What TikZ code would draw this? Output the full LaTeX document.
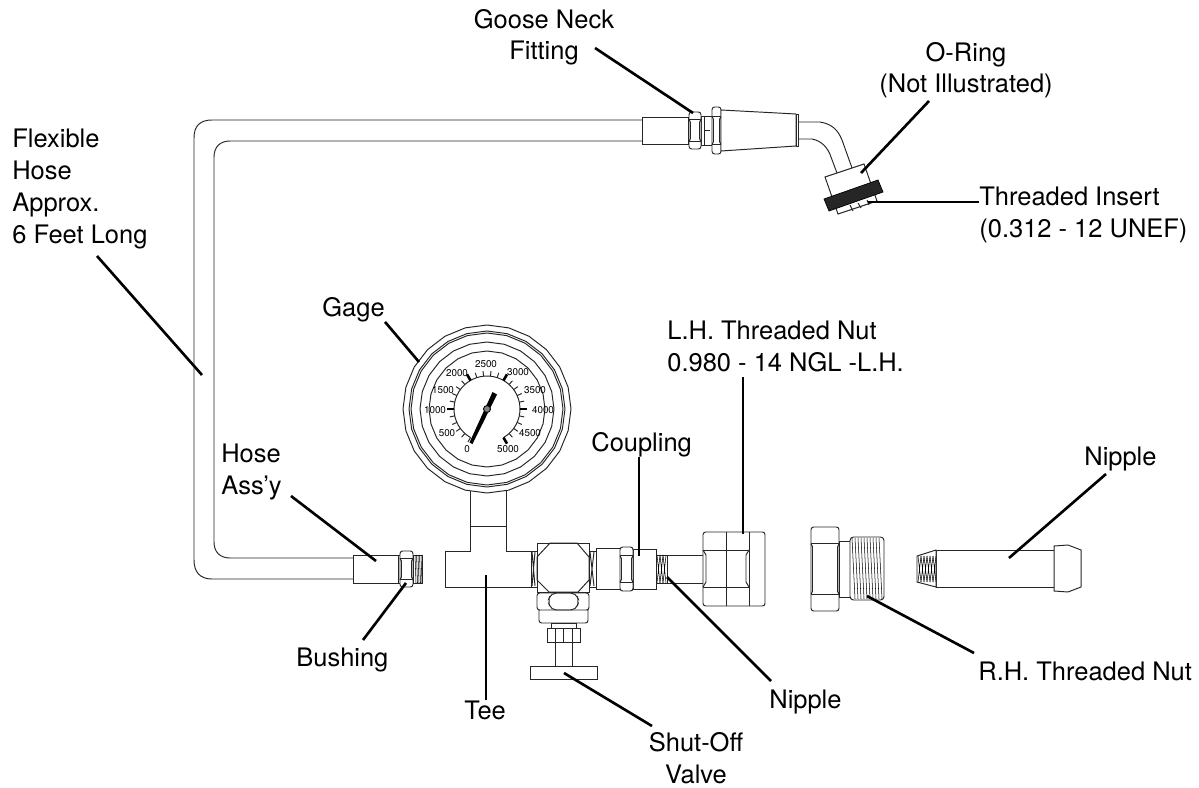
\documentclass[tikz,border=0pt]{standalone}
\usepackage{fontspec}
\setmainfont{TeX Gyre Heros}
\usetikzlibrary{positioning,calc}
\tikzset{
  part/.style={draw=black!85,line width=0.55pt,fill=white},
  wire/.style={draw=black!85,line width=0.55pt},
  fine/.style={draw=black,line width=0.3pt},
  leader/.style={draw=black,line width=1.5pt},
  lbl/.style={inner sep=0pt,anchor=base west,align=left,font=\fontsize{14.5}{18.2}\selectfont},
  clbl/.style={lbl,anchor=base,align=center},
  dial/.style={inner sep=0pt,font=\fontsize{5.6}{6}\selectfont}
}
\newcommand{\hexnut}[4]{
  \draw[part,rounded corners=1.5pt] (#1,#2) rectangle (#3,#4);
  \draw[wire] (#1,{#2+0.2*(#4-#2)}) -- (#3,{#2+0.2*(#4-#2)});
  \draw[wire] (#1,{#4-0.2*(#4-#2)}) -- (#3,{#4-0.2*(#4-#2)});
  \draw[wire] (#1,{#2+0.2*(#4-#2)}) -- ++(1.5,3) -- ({#1+1.5},{#4-0.2*(#4-#2)-3}) -- (#1,{#4-0.2*(#4-#2)});
  \draw[wire] (#3,{#2+0.2*(#4-#2)}) -- ++(-1.5,3) -- ({#3-1.5},{#4-0.2*(#4-#2)-3}) -- (#3,{#4-0.2*(#4-#2)});
}
\begin{document}
\begin{tikzpicture}[x=0.02cm,y=-0.02cm]
          \useasboundingbox (0,0) rectangle (1199,787);

          % hose
          \draw[wire] (642,120) -- (212,120) .. controls (200,120) and (194,126) .. (194,138) -- (194,560) .. controls (194,572) and (200,579) .. (212,579) -- (353,579);
          \draw[wire] (642,141) -- (230,141) .. controls (220,141) and (214,147) .. (214,157) -- (214,542) .. controls (214,552) and (220,558) .. (230,558) -- (353,558);

          % goose neck end
          \draw[part] (642,117) rectangle (688,144);
          \draw[part] (701,116) rectangle (712,145);
          \draw[wire] (704,116) -- (704,145) (704,130) -- (710,130);
          \hexnut{689}{112}{701}{149}
          \hexnut{712}{107}{721}{154}
          \draw[part] (721,110) -- (796,114) -- (796,146) -- (721,151) -- cycle;
          \draw[part] (796,114) rectangle (798,146);
          \draw[wire] (798,122) -- (820,122) .. controls (832,124) and (838,130) .. (842,140) -- (852,168);
          \draw[wire] (798,139) -- (812,139) .. controls (822,141) and (828,148) .. (831,157) -- (837,173);
          \draw[part] (825,177) -- (864,164) -- (877,201) -- (838,214) -- cycle;
          \draw[draw=black,fill=black!85] (824,199) -- (878,180) -- (883,192) -- (829,211) -- cycle;
          \draw[wire] (850,205) -- (853,211) (858,203) -- (861,208) (867,200) -- (869,205);

          % bottom fitting
          \draw[part] (353,555) rectangle (398,583);
          \draw[part] (398,555) rectangle (400,583);
          \hexnut{400}{551}{413}{587}
          \draw[part] (413,555) rectangle (422,583);
          \foreach \x in {415,416.5,...,421.5}
            \draw[fine] (\x,555) -- ({\x+1},583);

          % gage
          \draw[part] (470,485) rectangle (506,526);
          \foreach \r in {84,78,76,67,58}
            \draw[part] plot[samples=25,domain=0:360] ({487+\r*cos(\x)},{409+\r*sin(\x)}) -- cycle;
          \draw[wire] plot[samples=40,domain=-60:240] ({487+33*cos(\x)},{409-33*sin(\x)});
          \foreach \a in {-60,-48,...,240}
            \draw[wire] ({487+33*cos(\a)},{409-33*sin(\a)}) -- ({487+38*cos(\a)},{409-38*sin(\a)});
          \foreach \a in {-60,0,60,120,180}
            \draw[draw=black,line width=1.5pt] ({487+33*cos(\a)},{409-33*sin(\a)}) -- ({487+40*cos(\a)},{409-40*sin(\a)});
          \foreach \v/\px/\py in {0/467/449,500/447/433,1000/435/410,1500/443/390,2000/457/373,2500/486/364,3000/518/372,3500/535/390,4000/543/410,4500/530/433,5000/508/449}
            \node (dial\v) at (\px,\py) [dial]{\v};
          \fill[black] (469.5,442.5) -- (472.5,444) -- (497,394.5) -- (492.5,392) -- cycle;
          \draw[draw=black,fill=black!50,line width=0.5pt] (487,409) circle (3.5);

          % tee and valve
          \draw[part] (470,526) -- (470,551) -- (445,551) -- (445,587) -- (531,587) -- (531,551) -- (506,551) -- (506,526) -- cycle;
          \draw[part] (531,551) rectangle (537,587);
          \draw[wire] (532,552) -- (535,586) (535,552) -- (532,586);
          \draw[part] (589,551) rectangle (596,587);
          \draw[wire] (590,552) -- (594,586) (594,552) -- (590,586);
          \draw[part] (537,543) rectangle (589,592);
          \draw[wire] (537,557) -- (550,543) -- (577,543) -- (589,557) -- (589,580) -- (578,592) -- (549,592) -- (537,580) -- cycle;
          \draw[part,rounded corners=1.5pt] (539,608) -- (539,623) -- (588,623) -- (588,608) -- cycle;
          \draw[part,rounded corners=1.5pt] (537,593) rectangle (589,610);
          \draw[wire,rounded corners=3pt] (551,593) -- (548,601) -- (551,610) -- (576,610) -- (579,601) -- (576,593) -- cycle;
          \draw[part] (551,623) rectangle (576,628);
          \draw[part] (555,642) rectangle (572,666);
          \draw[part] (547,628) rectangle (580,642);
          \draw[wire] (555,628) -- (555,642) (572,628) -- (572,642) (563,628) -- (563,642);
          \draw[part] (530,666) rectangle (597,679);

          % coupling and L.H. nut
          \draw[part] (596,548) rectangle (620,589);
          \draw[part] (633,549) rectangle (656,589);
          \hexnut{620}{547}{633}{591}
          \draw[part] (667,555) rectangle (703,583);
          \draw[part] (656,555) rectangle (667,583);
          \foreach \x in {657,660,663}
            \draw[fine] (\x,555) -- ({\x+3},583) ({\x+3},555) -- (\x,583);
          \draw[part,rounded corners=1.5pt] (703,532) rectangle (765,606);
          \draw[wire] (726,532) -- (726,606) (749,532) -- (749,606);
          \draw[wire] (703,550) -- (749,550) (703,587) -- (749,587);
          \draw[wire] (703,550) -- (706,555) -- (706,582) -- (703,587);
          \draw[wire] (749,550) -- (746,555) -- (746,582) -- (749,587);

          % R.H. nut
          \hexnut{811}{527}{839}{611}
          \draw[part] (839,541) rectangle (850,597);
          \draw[part,rounded corners=2pt] (850,537) rectangle (884,600);
          \foreach \x in {852,855,...,879}
            \draw[fine] (\x,538) -- ({\x+3},599);

          % nipple
          \draw[part] (936,550) rectangle (1054,587);
          \draw[part] (917,556) -- (936,550) -- (936,587) -- (917,582) -- cycle;
          \foreach \x in {918,921,...,933}
            \draw[fine] (\x,556) -- ({\x+3},582) ({\x+3},556) -- (\x,582);
          \draw[part] (1054,546) -- (1068,545) -- (1081,550) -- (1081,587) -- (1068,592) -- (1054,591) -- cycle;

          % labels
          \node (lgoose) at (544,60) [clbl]{Goose Neck\\Fitting};
          \node (loring) at (966,93) [clbl]{O-Ring\\(Not Illustrated)};
          \node (linsert) at (979,237) [lbl]{Threaded Insert\\(0.312 - 12 UNEF)};
          \node (lflex) at (12,243) [lbl]{Flexible\\Hose\\Approx.\\6 Feet Long};
          \node (lgage) at (322,316) [lbl]{Gage};
          \node (llh) at (667,371) [lbl]{L.H. Threaded Nut\\0.980 - 14 NGL -L.H.};
          \node (lcoupling) at (591,451) [lbl]{Coupling};
          \node (lhose) at (221,494) [lbl]{Hose\\Ass’y};
          \node (lbushing) at (296,666) [lbl]{Bushing};
          \node (ltee) at (464,719) [lbl]{Tee};
          \node (lnipa) at (769,708) [lbl]{Nipple};
          \node (lvalve) at (696,783) [clbl]{Shut-Off\\Valve};
          \node (lrh) at (978,680) [lbl]{R.H. Threaded Nut};
          \node (lnipb) at (1084,465) [lbl]{Nipple};

          % leader ends
          \coordinate (goosea) at (595,48);
          \coordinate (gooseb) at (693,113);
          \coordinate (oringa) at (929,101);
          \coordinate (oringb) at (861,173);
          \coordinate (insertb) at (868,202);
          \coordinate (flexa) at (97,256);
          \coordinate (flexb) at (202,375);
          \coordinate (gageb) at (419,362);
          \coordinate (hosea) at (291,496);
          \coordinate (hoseb) at (376,561);
          \coordinate (busha) at (363,640);
          \coordinate (bushb) at (406,583);
          \coordinate (teeb) at (486,575);
          \coordinate (valvea) at (652,726);
          \coordinate (valveb) at (564,673);
          \coordinate (nipaa) at (771,681);
          \coordinate (nipab) at (667,577);
          \coordinate (coupb) at (639,556);
          \coordinate (lha) at (743,377);
          \coordinate (lhb) at (743,534);
          \coordinate (rha) at (974,653);
          \coordinate (rhb) at (867,596);
          \coordinate (nipba) at (1106,474);
          \coordinate (nipbb) at (1009,558);

          \draw[leader] (goosea) -- (gooseb);
          \draw[leader] (oringa) -- (oringb);
          \draw[leader] (insertb -| linsert.west) -- (insertb);
          \draw[leader] (flexa) -- (flexb);
          \draw[leader] (lgage.south east) -- (gageb);
          \draw[leader] (hosea) -- (hoseb);
          \draw[leader] (busha) -- (bushb);
          \draw[leader] (teeb |- ltee.north) -- (teeb);
          \draw[leader] (valvea) -- (valveb);
          \draw[leader] (nipaa) -- (nipab);
          \draw[leader] (coupb |- lcoupling.south) -- (coupb);
          \draw[leader] (lha) -- (lhb);
          \draw[leader] (rha) -- (rhb);
          \draw[leader] (nipba) -- (nipbb);
\end{tikzpicture}
\end{document}
